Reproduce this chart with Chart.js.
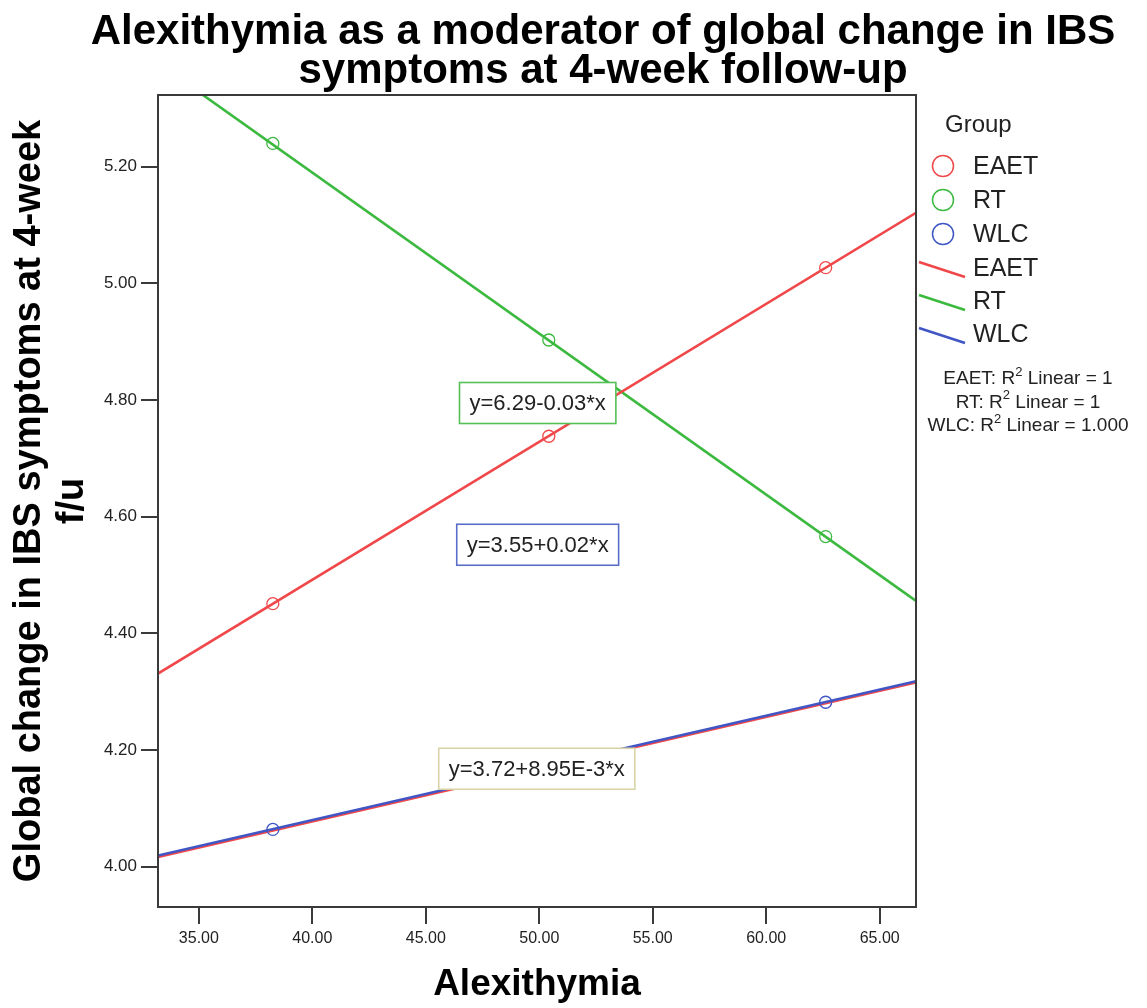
<!DOCTYPE html>
<html>
<head>
<meta charset="utf-8">
<script src="https://cdn.jsdelivr.net/npm/chart.js@4.4.1/dist/chart.umd.min.js"></script>
<style>
  html, body { margin: 0; padding: 0; background: #ffffff; }
  #wrap { width: 1147px; height: 1008px; position: relative; }
</style>
</head>
<body>
<div id="wrap"><canvas id="c" width="1147" height="1008"></canvas></div>
<script>
// Groups and their colours
const groups = ['EAET', 'RT', 'WLC'];
const groupColors = ['#f0484a', '#3cb93f', '#3f56c4'];

// Group mean scores at three alexithymia levels
const alexithymia = [38.26, 50.42, 62.62];
const eaetValues = [4.451, 4.738, 5.027];
const rtValues = [5.240, 4.903, 4.566];
const wlcValues = [4.064, 4.173, 4.282];

// Linear fit coefficients (intercept, slope) per group
const eaetFit = [3.546, 0.02365];
const rtFit = [6.294, -0.0276];
const wlcFit = [3.722, 0.00895];

// R² of each fit, as printed
const rSquaredText = ['1', '1', '1.000'];

// Axis ranges and ticks
const xRange = [33.2, 66.6];
const yRange = [3.931, 5.323];
const xTicks = [35, 40, 45, 50, 55, 60, 65];
const yTicks = [4.0, 4.2, 4.4, 4.6, 4.8, 5.0, 5.2];

// Text
const titleLines = ['Alexithymia as a moderator of global change in IBS', 'symptoms at 4-week follow-up'];
const xTitle = 'Alexithymia';
const yTitleLines = ['Global change in IBS symptoms at 4-week', 'f/u'];
const legendTitle = 'Group';

function fitLine(fit) {
  return xRange.map(x => ({ x: x, y: fit[0] + fit[1] * x }));
}
function fmtNum(v) {
  const a = Math.abs(v);
  if (a !== 0 && a < 0.01) return a.toExponential(2).replace('e', 'E');
  return a.toFixed(2);
}
function eqText(fit) {
  return 'y=' + fit[0].toFixed(2) + (fit[1] < 0 ? '-' : '+') + fmtNum(fit[1]) + '*x';
}
function pts(vals) { return alexithymia.map((x, i) => ({ x: x, y: vals[i] })); }

const fits = [eaetFit, rtFit, wlcFit];
const values = [eaetValues, rtValues, wlcValues];

// Equation boxes: text from the fits, placed in data units
const eqBoxes = [
  { text: eqText(rtFit), x: 49.93, y: 4.795, border: '#55c055' },
  { text: eqText(eaetFit), x: 49.93, y: 4.552, border: '#5a6ec8' },
  { text: eqText(wlcFit), x: 49.89, y: 4.168, border: '#d9d3a8' }
];

const datasets = [];
// fit lines
groups.forEach((g, i) => {
  datasets.push({
    type: 'line', label: g + ' fit', data: fitLine(fits[i]),
    borderColor: groupColors[i], borderWidth: 2.6, pointRadius: 0,
    fill: false, tension: 0, order: 2,
    underlay: g === 'WLC' ? groupColors[0] : null
  });
});
// mean markers
groups.forEach((g, i) => {
  datasets.push({
    type: 'scatter', label: g, data: pts(values[i]),
    borderColor: groupColors[i], backgroundColor: 'rgba(0,0,0,0)',
    borderWidth: 1.3, pointRadius: 6, pointHoverRadius: 6, order: 1
  });
});

const FONT = '"Liberation Sans", Arial, sans-serif';

const decor = {
  id: 'decor',
  beforeDatasetDraw(chart, args) {
    const ds = chart.data.datasets[args.index];
    if (!ds.underlay) return;
    const meta = args.meta;
    const ctx = chart.ctx;
    const a = chart.chartArea;
    ctx.save();
    ctx.beginPath();
    ctx.rect(a.left, a.top, a.right - a.left, a.bottom - a.top);
    ctx.clip();
    ctx.strokeStyle = ds.underlay;
    ctx.lineWidth = 2.4;
    ctx.beginPath();
    meta.data.forEach((p, k) => { k ? ctx.lineTo(p.x, p.y + 1.4) : ctx.moveTo(p.x, p.y + 1.4); });
    ctx.stroke();
    ctx.restore();
  },
  afterDatasetsDraw(chart) {
    const ctx = chart.ctx;
    const a = chart.chartArea;
    const xs = chart.scales.x, ys = chart.scales.y;
    // equation boxes
    ctx.save();
    ctx.font = '22px ' + FONT;
    ctx.textAlign = 'center';
    ctx.textBaseline = 'middle';
    eqBoxes.forEach(b => {
      const cx = xs.getPixelForValue(b.x), cy = ys.getPixelForValue(b.y);
      const w = ctx.measureText(b.text).width + 20, h = 41;
      ctx.fillStyle = '#ffffff';
      ctx.fillRect(cx - w / 2, cy - h / 2, w, h);
      ctx.strokeStyle = b.border;
      ctx.lineWidth = 1.6;
      ctx.strokeRect(cx - w / 2, cy - h / 2, w, h);
      ctx.fillStyle = '#222222';
      ctx.fillText(b.text, cx, cy + 1);
    });
    ctx.restore();
    // plot frame
    ctx.save();
    ctx.strokeStyle = '#3a3a3a';
    ctx.lineWidth = 2;
    ctx.strokeRect(a.left, a.top, a.right - a.left, a.bottom - a.top);
    ctx.restore();
  },
  afterDraw(chart) {
    const ctx = chart.ctx;
    const a = chart.chartArea;
    ctx.save();
    ctx.fillStyle = '#000000';
    // main title
    ctx.font = 'bold 42px ' + FONT;
    ctx.textAlign = 'center';
    ctx.textBaseline = 'middle';
    ctx.fillText(titleLines[0], 603, 32);
    ctx.fillText(titleLines[1], 603, 71);
    // x title
    ctx.font = 'bold 37px ' + FONT;
    ctx.fillText(xTitle, (a.left + a.right) / 2, 985);
    // y title (rotated)
    ctx.save();
    ctx.translate(30, (a.top + a.bottom) / 2);
    ctx.rotate(-Math.PI / 2);
    ctx.font = 'bold 38px ' + FONT;
    ctx.fillText(yTitleLines[0], 0, 0);
    ctx.fillText(yTitleLines[1], 0, 43);
    ctx.restore();

    // legend
    ctx.fillStyle = '#222222';
    ctx.textAlign = 'left';
    ctx.font = '24px ' + FONT;
    ctx.fillText(legendTitle, 945, 125);
    ctx.font = '25px ' + FONT;
    groups.forEach((g, i) => {
      const y = 166 + i * 34;
      ctx.beginPath();
      ctx.arc(943, y, 10.5, 0, Math.PI * 2);
      ctx.strokeStyle = groupColors[i];
      ctx.lineWidth = 1.5;
      ctx.stroke();
      ctx.fillStyle = '#222222';
      ctx.fillText(g, 973, y + 1);
    });
    groups.forEach((g, i) => {
      const y = 268 + i * 33;
      ctx.beginPath();
      ctx.moveTo(919, y - 6);
      ctx.lineTo(965, y + 9);
      ctx.strokeStyle = groupColors[i];
      ctx.lineWidth = 2.6;
      ctx.stroke();
      ctx.fillStyle = '#222222';
      ctx.fillText(g, 973, y + 1);
    });
    // R² lines
    const rx = 1028;
    groups.forEach((g, i) => {
      const y = 379 + i * 23.5;
      const p1 = g + ': R', p2 = ' Linear = ' + rSquaredText[i];
      ctx.font = '19px ' + FONT;
      const w1 = ctx.measureText(p1).width;
      const w3 = ctx.measureText(p2).width;
      ctx.font = '13px ' + FONT;
      const w2 = ctx.measureText('2').width;
      const x0 = rx - (w1 + w2 + w3) / 2;
      ctx.font = '19px ' + FONT;
      ctx.fillText(p1, x0, y);
      ctx.font = '13px ' + FONT;
      ctx.fillText('2', x0 + w1, y - 7);
      ctx.font = '19px ' + FONT;
      ctx.fillText(p2, x0 + w1 + w2, y);
    });
    ctx.restore();
  }
};

new Chart(document.getElementById('c'), {
  data: { datasets: datasets },
  options: {
    responsive: false,
    animation: false,
    events: [],
    layout: { padding: { top: 95, right: 231, left: 0, bottom: 0 } },
    plugins: { legend: { display: false }, tooltip: { enabled: false }, title: { display: false } },
    scales: {
      x: {
        type: 'linear', min: xRange[0], max: xRange[1],
        afterBuildTicks: s => { s.ticks = xTicks.map(v => ({ value: v })); },
        afterFit: s => { s.height = 101; },
        grid: { drawOnChartArea: false, drawTicks: true, tickLength: 17, color: '#3a3a3a', lineWidth: 2 },
        border: { display: true, color: '#3a3a3a', width: 2 },
        ticks: { color: '#222222', font: { family: FONT, size: 16 }, padding: 5, maxRotation: 0,
                 callback: v => Number(v).toFixed(2) }
      },
      y: {
        type: 'linear', min: yRange[0], max: yRange[1],
        afterBuildTicks: s => { s.ticks = yTicks.map(v => ({ value: v })); },
        afterFit: s => { s.width = 158; },
        grid: { drawOnChartArea: false, drawTicks: true, tickLength: 17, color: '#3a3a3a', lineWidth: 2 },
        border: { display: true, color: '#3a3a3a', width: 2 },
        ticks: { color: '#222222', font: { family: FONT, size: 17 }, padding: 4,
                 callback: v => Number(v).toFixed(2) }
      }
    }
  },
  plugins: [decor]
});
</script>
</body>
</html>
